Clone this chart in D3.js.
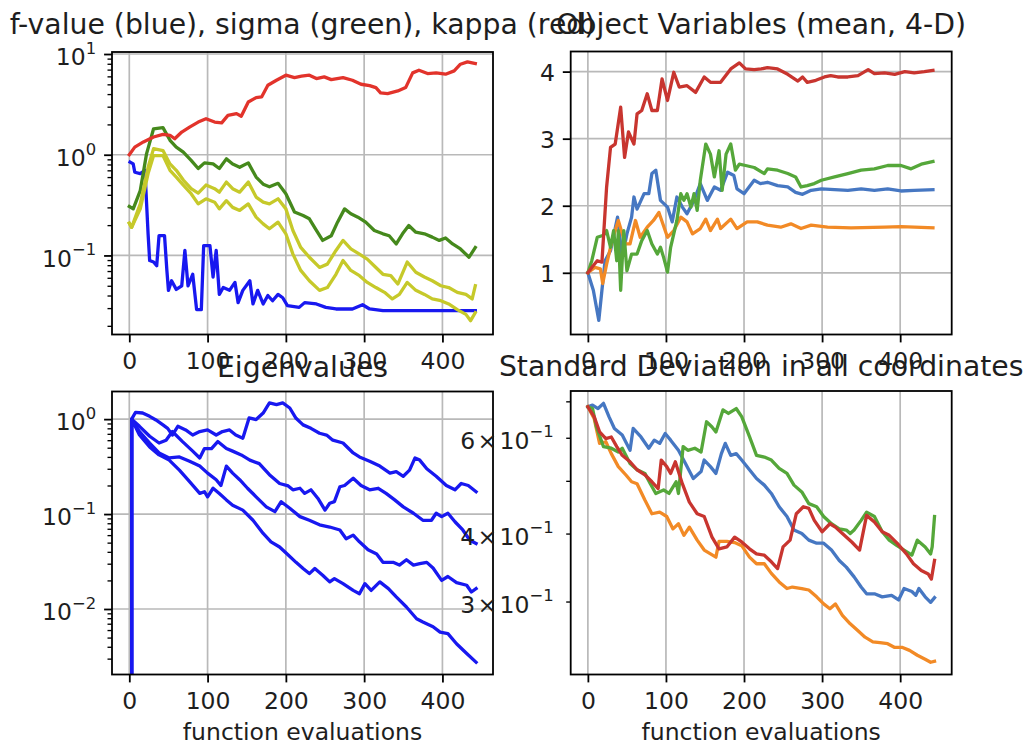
<!DOCTYPE html>
<html><head><meta charset="utf-8">
<script src="https://cdn.jsdelivr.net/npm/d3@7"></script>
<style>
body{margin:0;background:#fff}
svg{display:block}
text{font-family:"DejaVu Sans",sans-serif;fill:#1e1e1e}
</style>
</head><body>
<svg id="chart" width="1025" height="747"></svg>
<script>
// ---------------- data ----------------
const xTicks = [0, 100, 200, 300, 400];
const titles = ["f-value (blue), sigma (green), kappa (red)", "Object Variables (mean, 4-D)", "Eigenvalues", "Standard Deviation in all coordinates"];
const xLabel = "function evaluations";

// panel 1: f-value, sigma, kappa, min/max std
const fValue = [[1,0.845],[5,0.81],[7,0.67],[14,0.65],[20,0.70],[24,0.164],[26,0.089],[31,0.086],[35,0.079],[38,0.157],[45,0.157],[48,0.071],[50,0.045],[54,0.056],[60,0.046],[67,0.050],[71,0.112],[75,0.050],[81,0.065],[86,0.029],[92,0.029],[95,0.125],[103,0.125],[107,0.061],[111,0.112],[115,0.041],[120,0.048],[128,0.045],[135,0.054],[139,0.034],[145,0.045],[154,0.056],[158,0.033],[164,0.045],[171,0.033],[177,0.040],[183,0.0355],[190,0.041],[196,0.038],[202,0.0317],[217,0.0305],[224,0.034],[239,0.033],[251,0.0305],[264,0.0294],[285,0.0294],[298,0.0324],[307,0.0294],[324,0.0283],[442,0.0283]];
const sigma = [[0,0.306],[5,0.29],[14,0.44],[22,1.02],[31,1.81],[43,1.86],[52,1.39],[60,1.19],[69,1.06],[79,0.88],[88,0.73],[96,0.83],[107,0.81],[115,0.73],[124,0.91],[132,0.81],[141,0.75],[152,0.83],[162,0.60],[171,0.51],[179,0.48],[190,0.52],[200,0.41],[211,0.27],[222,0.249],[230,0.231],[239,0.177],[247,0.141],[258,0.157],[266,0.214],[275,0.29],[283,0.259],[292,0.240],[302,0.214],[313,0.177],[324,0.164],[332,0.157],[341,0.130],[349,0.164],[357,0.198],[366,0.170],[377,0.164],[387,0.152],[396,0.141],[404,0.149],[413,0.130],[423,0.116],[434,0.096],[442,0.120]];
const kappa = [[0,1.0],[7,1.19],[18,1.34],[31,1.50],[43,1.59],[52,1.56],[58,1.44],[67,1.68],[77,1.88],[88,2.11],[98,2.28],[109,2.11],[118,2.07],[126,2.46],[137,2.56],[143,2.41],[152,3.34],[162,3.69],[169,3.75],[177,4.90],[188,5.49],[200,6.16],[211,5.84],[220,6.02],[230,6.16],[239,5.70],[249,5.93],[258,5.57],[273,5.84],[285,5.49],[296,5.01],[307,4.86],[315,4.64],[321,4.11],[330,4.05],[343,4.30],[353,4.64],[362,6.50],[370,6.90],[381,6.40],[392,6.50],[404,6.30],[415,6.80],[423,7.92],[432,8.36],[442,8.04]];
const stdMax = [[0,0.209],[3,0.19],[14,0.325],[24,0.75],[31,1.15],[43,1.10],[52,0.81],[60,0.70],[69,0.56],[79,0.46],[88,0.416],[98,0.50],[109,0.46],[115,0.425],[124,0.535],[132,0.46],[141,0.425],[152,0.535],[162,0.38],[171,0.338],[179,0.325],[190,0.365],[200,0.29],[209,0.177],[219,0.120],[230,0.096],[243,0.076],[253,0.082],[264,0.112],[273,0.141],[283,0.116],[294,0.103],[304,0.092],[315,0.076],[324,0.065],[334,0.063],[343,0.052],[355,0.086],[366,0.068],[377,0.061],[387,0.056],[398,0.050],[408,0.048],[419,0.043],[430,0.041],[438,0.037],[442,0.050]];
const stdMin = [[0,0.209],[3,0.19],[14,0.29],[24,0.65],[31,0.98],[43,0.98],[52,0.70],[60,0.60],[69,0.50],[79,0.41],[88,0.325],[98,0.365],[109,0.338],[115,0.29],[124,0.35],[132,0.30],[141,0.28],[152,0.325],[162,0.24],[171,0.206],[179,0.184],[190,0.214],[200,0.164],[209,0.103],[219,0.071],[230,0.056],[243,0.045],[253,0.048],[264,0.065],[273,0.089],[283,0.071],[294,0.063],[304,0.054],[315,0.048],[326,0.043],[336,0.037],[345,0.041],[355,0.054],[366,0.045],[377,0.041],[387,0.037],[398,0.0355],[408,0.033],[419,0.029],[430,0.026],[436,0.0225],[442,0.027]];

// panel 2: object variables (mean)
const meanX1 = [[0,1],[7,0.74],[14,0.29],[18,0.74],[22,1.18],[29,1.33],[38,1.83],[44,1.23],[50,1.58],[56,1.83],[59,2.13],[63,1.95],[72,2.18],[78,2.18],[82,2.48],[87,2.53],[93,2.08],[102,1.98],[108,1.76],[114,2.13],[121,1.98],[127,1.88],[136,2.08],[144,2.33],[153,2.08],[162,2.28],[170,2.23],[179,2.50],[187,2.45],[191,2.25],[200,2.18],[213,2.38],[221,2.33],[230,2.35],[243,2.30],[256,2.28],[266,2.20],[275,2.17],[286,2.23],[299,2.25],[316,2.24],[333,2.23],[350,2.25],[367,2.23],[384,2.25],[401,2.22],[418,2.23],[442,2.24]];
const meanX2 = [[0,1],[9,1.08],[16,1.06],[19,0.84],[24,1.13],[31,1.48],[39,1.78],[48,1.43],[54,1.43],[61,1.78],[67,1.53],[76,1.68],[84,1.78],[91,1.90],[102,1.53],[110,1.63],[119,1.83],[127,1.76],[134,1.58],[144,1.66],[151,1.80],[157,1.63],[166,1.80],[170,1.66],[183,1.80],[191,1.66],[204,1.76],[217,1.76],[230,1.71],[247,1.68],[260,1.73],[273,1.66],[286,1.71],[307,1.68],[337,1.67],[380,1.68],[401,1.69],[442,1.67]];
const meanX3 = [[0,1],[5,1.18],[12,1.53],[20,1.56],[24,1.63],[29,1.38],[33,1.63],[37,1.18],[39,1.63],[42,0.74],[46,1.63],[50,1.03],[56,1.28],[63,1.28],[69,1.48],[76,1.63],[82,1.43],[89,1.28],[93,1.38],[97,1.23],[102,1.01],[106,1.38],[110,1.58],[114,1.78],[119,2.18],[123,2.08],[127,2.18],[132,1.98],[136,2.18],[140,1.93],[144,2.38],[151,2.92],[157,2.77],[162,2.43],[168,2.82],[172,2.23],[177,2.77],[183,2.92],[189,2.53],[194,2.62],[202,2.60],[213,2.57],[226,2.48],[230,2.55],[243,2.53],[256,2.48],[266,2.43],[273,2.28],[281,2.30],[290,2.33],[299,2.38],[316,2.43],[333,2.48],[350,2.53],[367,2.55],[384,2.60],[401,2.60],[414,2.55],[427,2.62],[442,2.66]];
const meanX4 = [[0,1],[5,1.08],[12,1.18],[18,1.16],[24,2.28],[29,2.87],[35,2.92],[42,3.47],[47,2.72],[52,3.10],[59,2.92],[63,3.37],[69,3.42],[76,3.67],[82,3.42],[89,3.42],[95,3.89],[102,3.57],[110,3.99],[117,3.77],[127,3.79],[138,3.69],[149,3.92],[157,3.84],[170,3.84],[183,4.04],[194,4.13],[202,4.04],[213,4.03],[222,4.04],[230,4.06],[243,4.04],[256,3.96],[269,3.86],[275,3.92],[281,3.84],[292,3.87],[303,3.92],[311,3.94],[320,3.92],[333,3.92],[346,3.94],[359,4.03],[367,3.97],[380,3.98],[393,3.96],[406,4.00],[418,3.98],[431,4.00],[442,4.02]];

// panel 3: eigenvalues (first value is zero, clipped on the log axis)
const eig1 = [[3,0],[3,1],[8,1.18],[17,1.16],[26,1.07],[34,0.98],[43,0.87],[49,0.80],[55,0.68],[62,0.84],[72,0.77],[81,0.68],[90,0.74],[100,0.77],[111,0.68],[119,0.74],[128,0.77],[136,0.68],[145,0.63],[153,1.03],[162,0.99],[171,1.16],[179,1.48],[188,1.42],[196,1.48],[205,1.31],[213,1.02],[222,0.87],[232,0.80],[243,0.71],[252,0.68],[260,0.60],[273,0.56],[286,0.44],[294,0.40],[307,0.36],[320,0.32],[333,0.27],[341,0.28],[350,0.25],[358,0.29],[365,0.39],[371,0.37],[380,0.30],[392,0.25],[405,0.20],[416,0.18],[424,0.21],[433,0.20],[443,0.172]];
const eig2 = [[3,0],[3,1],[13,0.84],[26,0.66],[38,0.56],[47,0.60],[55,0.74],[68,0.58],[81,0.46],[90,0.39],[96,0.49],[105,0.49],[113,0.58],[124,0.49],[132,0.46],[143,0.42],[154,0.37],[166,0.34],[179,0.26],[192,0.21],[203,0.198],[209,0.18],[218,0.187],[224,0.165],[232,0.18],[241,0.146],[250,0.110],[256,0.130],[262,0.135],[269,0.194],[275,0.20],[286,0.238],[296,0.20],[307,0.18],[318,0.187],[328,0.165],[339,0.141],[350,0.119],[363,0.102],[375,0.086],[386,0.086],[392,0.102],[399,0.094],[407,0.102],[416,0.083],[426,0.068],[435,0.053],[443,0.049]];
const eig3 = [[3,0],[3,1],[13,0.74],[26,0.56],[38,0.44],[51,0.39],[64,0.40],[77,0.36],[90,0.32],[100,0.27],[111,0.23],[117,0.20],[124,0.32],[132,0.27],[141,0.23],[151,0.187],[162,0.152],[175,0.119],[186,0.106],[194,0.135],[205,0.115],[218,0.094],[230,0.086],[243,0.077],[256,0.073],[269,0.068],[277,0.055],[286,0.060],[294,0.051],[305,0.042],[316,0.038],[324,0.031],[337,0.031],[345,0.029],[354,0.033],[363,0.029],[371,0.030],[380,0.031],[388,0.027],[399,0.020],[407,0.022],[418,0.019],[431,0.0178],[437,0.0151],[443,0.0164]];
const eig4 = [[3,0],[3,1],[13,0.68],[26,0.51],[38,0.42],[51,0.37],[64,0.29],[77,0.22],[90,0.165],[96,0.172],[100,0.152],[107,0.187],[115,0.165],[124,0.141],[132,0.124],[145,0.110],[158,0.086],[171,0.0625],[181,0.051],[192,0.045],[203,0.037],[213,0.031],[222,0.0267],[230,0.0236],[237,0.0267],[247,0.0227],[256,0.0193],[262,0.0209],[273,0.0185],[286,0.0157],[294,0.0145],[301,0.0185],[309,0.0157],[320,0.0193],[331,0.0164],[341,0.0134],[354,0.0105],[367,0.0079],[375,0.0073],[388,0.0065],[397,0.0057],[407,0.0055],[418,0.0043],[431,0.0034],[443,0.00275]];

// panel 4: standard deviations
const std1 = [[0,0.684],[6,0.689],[13,0.679],[20,0.694],[27,0.656],[34,0.624],[44,0.607],[54,0.569],[58,0.624],[68,0.602],[78,0.574],[85,0.594],[92,0.586],[99,0.611],[106,0.594],[116,0.569],[125,0.538],[135,0.505],[145,0.520],[149,0.546],[157,0.531],[164,0.516],[171,0.561],[176,0.586],[183,0.557],[190,0.561],[197,0.546],[207,0.524],[216,0.505],[226,0.491],[235,0.474],[245,0.448],[255,0.430],[264,0.406],[274,0.400],[283,0.389],[293,0.384],[302,0.384],[312,0.373],[322,0.357],[331,0.347],[341,0.333],[350,0.319],[357,0.310],[367,0.310],[377,0.306],[389,0.308],[398,0.302],[405,0.317],[415,0.313],[420,0.308],[424,0.317],[432,0.306],[439,0.299],[444,0.305]];
const std2 = [[0,0.684],[8,0.651],[15,0.586],[23,0.590],[30,0.561],[39,0.531],[49,0.512],[56,0.498],[63,0.494],[73,0.461],[82,0.435],[92,0.438],[101,0.430],[109,0.408],[116,0.417],[123,0.397],[130,0.411],[140,0.389],[149,0.373],[164,0.362],[168,0.387],[178,0.387],[188,0.385],[197,0.380],[207,0.362],[216,0.352],[226,0.352],[235,0.338],[245,0.326],[255,0.317],[262,0.319],[274,0.317],[283,0.315],[293,0.306],[302,0.297],[310,0.291],[317,0.297],[326,0.283],[336,0.273],[346,0.265],[355,0.258],[365,0.253],[374,0.252],[384,0.251],[393,0.247],[403,0.247],[412,0.244],[422,0.239],[432,0.235],[439,0.232],[444,0.233]];
const std3 = [[0,0.684],[6,0.679],[11,0.628],[20,0.578],[30,0.574],[39,0.565],[44,0.574],[54,0.538],[63,0.524],[73,0.516],[80,0.494],[87,0.474],[97,0.481],[104,0.474],[113,0.498],[116,0.474],[122,0.578],[128,0.569],[137,0.574],[145,0.565],[152,0.642],[159,0.628],[164,0.615],[173,0.675],[180,0.665],[190,0.679],[197,0.656],[207,0.603],[216,0.557],[226,0.553],[235,0.546],[245,0.527],[255,0.516],[264,0.491],[274,0.477],[283,0.454],[293,0.448],[302,0.430],[312,0.417],[322,0.408],[331,0.406],[336,0.400],[341,0.406],[350,0.423],[357,0.438],[367,0.430],[377,0.403],[386,0.389],[396,0.380],[405,0.373],[415,0.365],[422,0.389],[432,0.378],[439,0.367],[441,0.378],[444,0.430]];
const std4 = [[0,0.684],[8,0.656],[15,0.615],[23,0.598],[30,0.602],[37,0.578],[44,0.557],[54,0.542],[63,0.524],[73,0.513],[82,0.498],[90,0.484],[94,0.546],[101,0.531],[106,0.516],[112,0.542],[121,0.494],[130,0.457],[140,0.435],[149,0.430],[159,0.394],[168,0.375],[178,0.378],[188,0.394],[197,0.386],[207,0.375],[216,0.367],[226,0.365],[235,0.355],[243,0.345],[250,0.378],[259,0.389],[267,0.435],[276,0.448],[283,0.445],[290,0.423],[300,0.403],[310,0.417],[317,0.411],[326,0.400],[338,0.386],[348,0.373],[357,0.432],[367,0.420],[377,0.403],[386,0.397],[396,0.384],[408,0.367],[417,0.352],[427,0.342],[436,0.337],[440,0.330],[444,0.357]];

// tick values
const p1Major = [0.1, 1, 10];
const p1Labels = [["10","\u22121"],["10","0"],["10","1"]];
const p2Ticks = [1, 2, 3, 4];
const p3Major = [0.01, 0.1, 1];
const p3Labels = [["10","\u22122"],["10","\u22121"],["10","0"]];
const p4Minor = [0.3, 0.4, 0.5, 0.6, 0.7];
const p4Labels = [["3\u200a\u00d7\u200a10","\u22121"],["4\u200a\u00d7\u200a10","\u22121"],null,["6\u200a\u00d7\u200a10","\u22121"],null];

// ---------------- styling ----------------
const TICK_FS = 23.5, TITLE_FS = 28.3;
const MAJ = 7.9, MIN = 4.5, PAD = 7.9;
const LW = 3.3;
const GRID = "#b9b9b9";
const C = {
  b: "#1818f0", g: "#45891c", y: "#c6c92a", r: "#e2332b",
  t0: "#4677c2", t1: "#f28a26", t2: "#55a73a", t3: "#c8352f"
};

const svg = d3.select("#chart");
svg.append("rect").attr("width", 1025).attr("height", 747).attr("fill", "#fff");

let clipId = 0;
function logMinors(domain) {
  const out = [];
  const lo = Math.floor(Math.log10(domain[0])), hi = Math.ceil(Math.log10(domain[1]));
  for (let d = lo; d <= hi; d++) for (let m = 2; m <= 9; m++) {
    const v = m * Math.pow(10, d);
    if (v >= domain[0] && v <= domain[1]) out.push(v);
  }
  return out;
}

function addSupLabel(sel, parts, xOff, yOff) {
  const t = sel.append("text").attr("x", xOff).attr("y", yOff)
    .attr("text-anchor", "end").attr("font-size", TICK_FS);
  t.append("tspan").text(parts[0]);
  t.append("tspan").attr("dy", -11.5).attr("font-size", TICK_FS * 0.7).text(parts[1]);
}

function panel(cfg) {
  const g = svg.append("g");
  const x = d3.scaleLinear().domain(cfg.xDomain).range([cfg.left, cfg.right]);
  const y = (cfg.log ? d3.scaleLog() : d3.scaleLinear()).domain(cfg.yDomain).range([cfg.bottom, cfg.top]);
  const id = "clip" + (clipId++);
  g.append("clipPath").attr("id", id).append("rect")
    .attr("x", cfg.left).attr("y", cfg.top)
    .attr("width", cfg.right - cfg.left).attr("height", cfg.bottom - cfg.top);

  // grid
  const grid = g.append("g").attr("clip-path", `url(#${id})`);
  grid.selectAll("line.gx").data(xTicks).join("line")
    .attr("x1", d => x(d)).attr("x2", d => x(d)).attr("y1", cfg.top).attr("y2", cfg.bottom)
    .attr("stroke", GRID).attr("stroke-width", 1.7);
  grid.selectAll("line.gy").data(cfg.gridY).join("line")
    .attr("y1", d => y(d)).attr("y2", d => y(d)).attr("x1", cfg.left).attr("x2", cfg.right)
    .attr("stroke", GRID).attr("stroke-width", 1.7);

  // series
  const line = d3.line()
    .x(d => x(d[0]))
    .y(d => cfg.log ? Math.min(y(Math.max(d[1], 1e-12)), cfg.bottom + 50) : y(d[1]));
  const lines = g.append("g").attr("clip-path", `url(#${id})`);
  cfg.series.forEach(s => {
    lines.append("path").attr("d", line(s.data)).attr("fill", "none")
      .attr("stroke", s.color).attr("stroke-width", LW)
      .attr("stroke-linejoin", "round").attr("stroke-linecap", "square");
  });

  // x axis
  const xa = g.append("g").attr("transform", `translate(0,${cfg.bottom})`)
    .call(d3.axisBottom(x).tickValues(xTicks).tickSize(MAJ).tickPadding(10.0).tickSizeOuter(0));
  xa.select(".domain").remove();
  xa.selectAll("line").attr("stroke", "#000").attr("stroke-width", 1.8);
  xa.selectAll("text").attr("font-size", TICK_FS).attr("font-family", "DejaVu Sans").attr("fill", "#1e1e1e");

  // y axis
  const ya = g.append("g").attr("transform", `translate(${cfg.left},0)`);
  if (cfg.log) {
    if (cfg.yMajor.length) {
      const maj = ya.append("g").call(d3.axisLeft(y).tickValues(cfg.yMajor).tickSize(MAJ).tickFormat(() => "").tickSizeOuter(0));
      maj.select(".domain").remove();
      maj.selectAll("line").attr("stroke", "#000").attr("stroke-width", 1.8);
      maj.selectAll(".tick").each(function (d, i) {
        addSupLabel(d3.select(this), cfg.yLabels[i], -(MAJ + PAD), 10.8);
      });
    }
    const minorVals = cfg.yMinor || logMinors(cfg.yDomain);
    const mn = ya.append("g").call(d3.axisLeft(y).tickValues(minorVals).tickSize(MIN).tickFormat(() => "").tickSizeOuter(0));
    mn.select(".domain").remove();
    mn.selectAll("line").attr("stroke", "#000").attr("stroke-width", 1.35);
    if (cfg.minorLabels) {
      mn.selectAll(".tick").each(function (d, i) {
        if (cfg.minorLabels[i]) addSupLabel(d3.select(this), cfg.minorLabels[i], -17, 10.5);
      });
    }
  } else {
    const la = ya.append("g").call(d3.axisLeft(y).tickValues(cfg.yTicks).tickSize(MAJ).tickPadding(PAD).tickSizeOuter(0).tickFormat(d3.format("d")));
    la.select(".domain").remove();
    la.selectAll("line").attr("stroke", "#000").attr("stroke-width", 1.8);
    la.selectAll("text").attr("font-size", TICK_FS).attr("font-family", "DejaVu Sans").attr("fill", "#1e1e1e").attr("dy", "0.36em");
  }

  // spines
  g.append("rect").attr("x", cfg.left).attr("y", cfg.top)
    .attr("width", cfg.right - cfg.left).attr("height", cfg.bottom - cfg.top)
    .attr("fill", "none").attr("stroke", "#000").attr("stroke-width", 1.8);

  // title
  g.append("text").attr("x", (cfg.left + cfg.right) / 2).attr("y", cfg.titleY)
    .attr("text-anchor", "middle").attr("font-size", TITLE_FS).text(cfg.title);
  if (cfg.xLabel) {
    g.append("text").attr("x", (cfg.left + cfg.right) / 2).attr("y", cfg.bottom + 65.5)
      .attr("text-anchor", "middle").attr("font-size", TICK_FS).text(cfg.xLabel);
  }
}

// draw order: later panels' titles overlap earlier ones as in the original
panel({
  left: 112, right: 493, top: 52, bottom: 334.5, titleY: 33.5, title: titles[0],
  xDomain: [-22.1, 464.6], log: true, yDomain: [Math.pow(10, -1.785), Math.pow(10, 1.02)],
  gridY: p1Major, yMajor: p1Major, yLabels: p1Labels,
  series: [
    { data: fValue, color: C.b }, { data: sigma, color: C.g }, { data: kappa, color: C.r },
    { data: stdMax, color: C.y }, { data: stdMin, color: C.y }
  ]
});
panel({
  left: 570.7, right: 951.7, top: 51.5, bottom: 334.5, titleY: 33.5, title: titles[1],
  xDomain: [-22, 466], log: false, yDomain: [0.08, 4.30],
  gridY: p2Ticks, yTicks: p2Ticks,
  series: [
    { data: meanX1, color: C.t0 }, { data: meanX2, color: C.t1 },
    { data: meanX3, color: C.t2 }, { data: meanX4, color: C.t3 }
  ]
});
panel({
  left: 112, right: 493, top: 391.5, bottom: 674.5, titleY: 376.5, title: titles[2], xLabel: xLabel,
  xDomain: [-22.1, 464.6], log: true, yDomain: [Math.pow(10, -2.69), Math.pow(10, 0.291)],
  gridY: p3Major, yMajor: p3Major, yLabels: p3Labels,
  series: [
    { data: eig1, color: C.b }, { data: eig2, color: C.b },
    { data: eig3, color: C.b }, { data: eig4, color: C.b }
  ]
});
panel({
  left: 570.7, right: 951.7, top: 391, bottom: 674.5, titleY: 376, title: titles[3], xLabel: xLabel,
  xDomain: [-22, 466], log: true, yDomain: [0.2203, 0.7313],
  gridY: [], yMajor: [], yMinor: p4Minor, minorLabels: p4Labels,
  series: [
    { data: std1, color: C.t0 }, { data: std2, color: C.t1 },
    { data: std3, color: C.t2 }, { data: std4, color: C.t3 }
  ]
});
</script>
</body></html>
